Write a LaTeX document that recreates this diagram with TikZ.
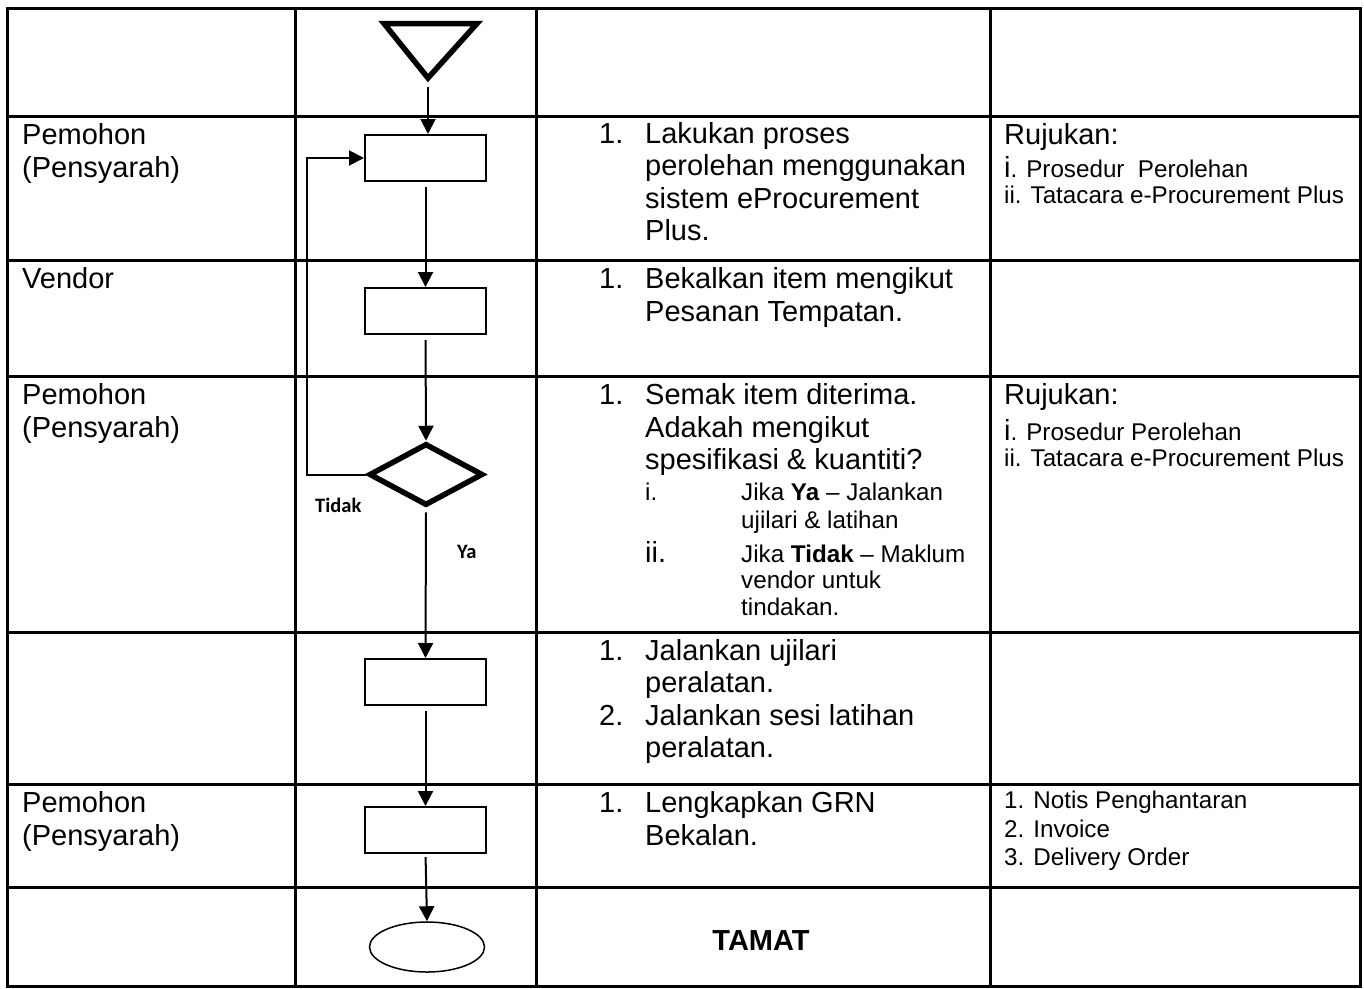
\documentclass[tikz,border=0pt]{standalone}
\usepackage{fontspec}
\setmainfont{Liberation Sans}
\newfontfamily\calib{Carlito}
\usetikzlibrary{arrows.meta,shapes.geometric}
\newcommand\bigf{\fontsize{29}{33}\selectfont}
\newcommand\smf{\fontsize{24.2}{26}\selectfont}
\newcommand\lblf{\calib\bfseries\fontsize{20.5}{24}\selectfont}
\begin{document}
\begin{tikzpicture}[x=1pt,y=-1pt,
  grid/.style={line width=3pt},
  flow/.style={line width=2pt,-{Triangle[length=15pt,width=15pt]}},
  procbox/.style={draw,line width=2pt,minimum width=121pt,minimum height=46pt,inner sep=0pt},
  decide/.style={diamond,draw,line width=5.5pt,minimum width=114pt,minimum height=62pt,inner sep=0pt},
  term/.style={ellipse,draw,line width=1.5pt,minimum width=115pt,minimum height=50pt,inner sep=0pt},
  txt/.style={anchor=base west,inner sep=0pt,font=\bigf},
  stxt/.style={anchor=base west,inner sep=0pt,font=\smf},
  lbl/.style={anchor=base west,inner sep=0pt,font=\lblf}
]
\useasboundingbox (0,0) rectangle (1364,988);
\fill[white] (0,0) rectangle (1364,988);

% table
\draw[grid] (7,8) rectangle (1360,986);
\foreach \yy in {116,260,376,632,784,887} \draw[grid] (7,\yy) -- (1360,\yy);
\foreach \xx in {295,536,990} \draw[grid] (\xx,8) -- (\xx,986);

% flow shapes
\draw[line width=5.5pt] (384,23.5) -- (477,23.5) -- (428,78) -- cycle;
\coordinate (start) at (428,78);
\node[procbox] (box1) at (425.5,158) {};
\node[procbox] (box2) at (425.5,311) {};
\node[decide] (dia) at (426,474.5) {};
\node[procbox] (box4) at (425.5,682) {};
\node[procbox] (box5) at (425.5,830) {};
\node[term] (endn) at (427,947) {};
\coordinate (loopc) at (307,300);

% connectors
\draw[flow,shorten <=9pt] (start) -- (start |- box1.north);
\draw[flow,shorten <=5pt] (box1.south) -- (box2.north);
\draw[flow,shorten <=5pt] (box2.south) -- (dia.north);
\draw[flow,shorten <=4pt] (dia.south) -- (box4.north);
\draw[flow,shorten <=5pt] (box4.south) -- (box5.north);
\draw[flow,shorten <=3pt] (box5.south) -- (endn.north);
\draw[flow] (dia.west) -| (loopc) |- (box1.west);
\node[lbl] (tidak) at (315,512) {Tidak};
\node[lbl] (ya) at (457,558) {Ya};

% left column
\node[txt] (a1) at (22,144) {Pemohon};
\node[txt] (a2) at (22,177) {(Pensyarah)};
\node[txt] (a3) at (22,288) {Vendor};
\node[txt] (a4) at (22,404) {Pemohon};
\node[txt] (a5) at (22,437) {(Pensyarah)};
\node[txt] (a6) at (22,812) {Pemohon};
\node[txt] (a7) at (22,845) {(Pensyarah)};

% middle column
\node[txt] (n1) at (599,143) {1.};
\node[txt] (b1) at (645,143) {Lakukan proses};
\node[txt] (b2) at (645,175.5) {perolehan menggunakan};
\node[txt] (b3) at (645,208) {sistem eProcurement};
\node[txt] (b4) at (645,240.5) {Plus.};
\node[txt] (n2) at (599,288) {1.};
\node[txt] (c1) at (645,288) {Bekalkan item mengikut};
\node[txt] (c2) at (645,321) {Pesanan Tempatan.};
\node[txt] (n3) at (599,404) {1.};
\node[txt] (d1) at (645,404) {Semak item diterima.};
\node[txt] (d2) at (645,437) {Adakah mengikut};
\node[txt] (d3) at (645,469) {spesifikasi \& kuantiti?};
\node[stxt] (r1) at (645,500) {i.};
\node[stxt] (d4) at (741,500) {Jika \textbf{Ya} – Jalankan};
\node[stxt] (d5) at (741,528) {ujilari \& latihan};
\node[txt] (r2) at (645,562) {ii.};
\node[stxt] (d6) at (741,562) {Jika \textbf{Tidak} – Maklum};
\node[stxt] (d7) at (741,588) {vendor untuk};
\node[stxt] (d8) at (741,615) {tindakan.};
\node[txt] (n4) at (599,660) {1.};
\node[txt] (e1) at (645,660) {Jalankan ujilari};
\node[txt] (e2) at (645,692) {peralatan.};
\node[txt] (n5) at (599,725) {2.};
\node[txt] (e3) at (645,725) {Jalankan sesi latihan};
\node[txt] (e4) at (645,757.5) {peralatan.};
\node[txt] (n6) at (599,812) {1.};
\node[txt] (f1) at (645,812) {Lengkapkan GRN};
\node[txt] (f2) at (645,845) {Bekalan.};
\node[anchor=base,inner sep=0pt,font=\bigf\bfseries] (tamat) at (761,950) {TAMAT};

% right column
\node[txt] (g1) at (1004,144) {Rujukan:};
\node[stxt] (g2) at (1004,177) {{\bigf i}. Prosedur\ \ Perolehan};
\node[stxt] (g3) at (1004,203) {ii. Tatacara e-Procurement Plus};
\node[txt] (h1) at (1004,404) {Rujukan:};
\node[stxt] (h2) at (1004,440) {{\bigf i}. Prosedur Perolehan};
\node[stxt] (h3) at (1004,466) {ii. Tatacara e-Procurement Plus};
\node[stxt] (k1) at (1004,808) {1. Notis Penghantaran};
\node[stxt] (k2) at (1004,837) {2. Invoice};
\node[stxt] (k3) at (1004,865) {3. Delivery Order};
\end{tikzpicture}
\end{document}
